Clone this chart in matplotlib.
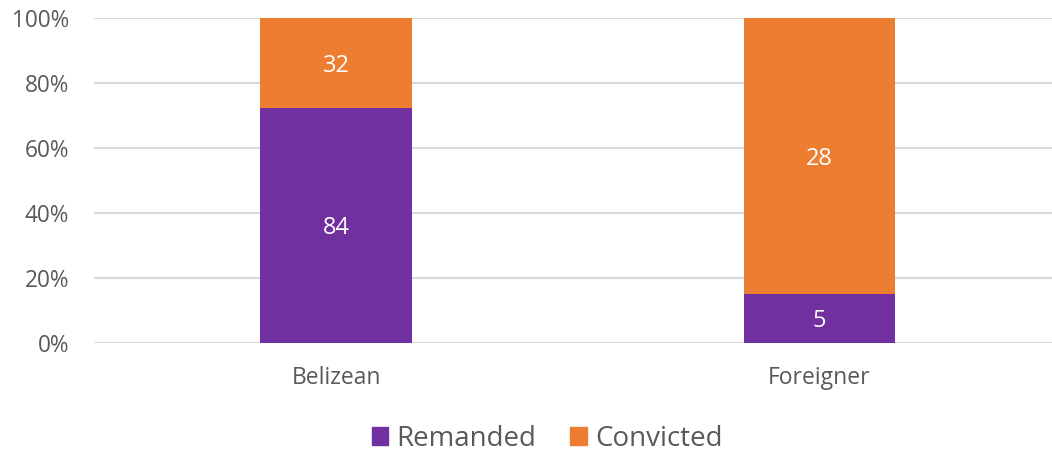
import matplotlib
matplotlib.use("Agg")
import matplotlib.pyplot as plt
from matplotlib.patches import Patch

categories = ["Belizean", "Foreigner"]
remanded = [84, 5]
convicted = [32, 28]

plt.rcParams['font.family'] = ['Open Sans', 'DejaVu Sans']

fig = plt.figure(figsize=(10.52, 4.53), dpi=100)
ax = fig.add_axes([94.25/1052, 110/453, 967/1052, 325/453])

purple = "#7030A0"
orange = "#ED7D31"
tot = [r + c for r, c in zip(remanded, convicted)]
rp = [r / t * 100 for r, t in zip(remanded, tot)]
cp = [c / t * 100 for c, t in zip(convicted, tot)]
x = list(range(len(categories)))
w = 0.314
ax.bar(x, rp, w, color=purple, zorder=3)
ax.bar(x, cp, w, bottom=rp, color=orange, zorder=3)

for i in x:
    ax.text(i, rp[i] / 2, str(remanded[i]), ha='center', va='center_baseline', color='white', fontsize=17, zorder=4)
    ax.text(i, rp[i] + cp[i] / 2, str(convicted[i]), ha='center', va='center_baseline', color='white', fontsize=17, zorder=4)

ax.set_xlim(-0.5, 1.5)
ax.set_ylim(0, 100)
ax.set_yticks(range(0, 101, 20))
ax.set_yticklabels([f"{v}%" for v in range(0, 101, 20)])
ax.set_xticks(x)
ax.set_xticklabels(categories)
ax.grid(axis='y', color='#d9d9d9', linewidth=1.5, zorder=0)
for s in ax.spines.values():
    s.set_visible(False)
ax.tick_params(axis='both', length=0, colors='#595959')
ax.tick_params(axis='y', labelsize=16.3, pad=18)
ax.tick_params(axis='x', labelsize=16.5, pad=16.5)

handles = [Patch(color=purple, label="Remanded"), Patch(color=orange, label="Convicted")]
fig.legend(handles=handles, loc='center', bbox_to_anchor=(547/1052, 1 - 439/453), ncol=2,
           frameon=False, fontsize=20, handlelength=0.6, handleheight=0.6, handletextpad=0.3,
           columnspacing=1.2, labelcolor='#595959', borderpad=0, borderaxespad=0)

fig.savefig("out.png", dpi=100)
